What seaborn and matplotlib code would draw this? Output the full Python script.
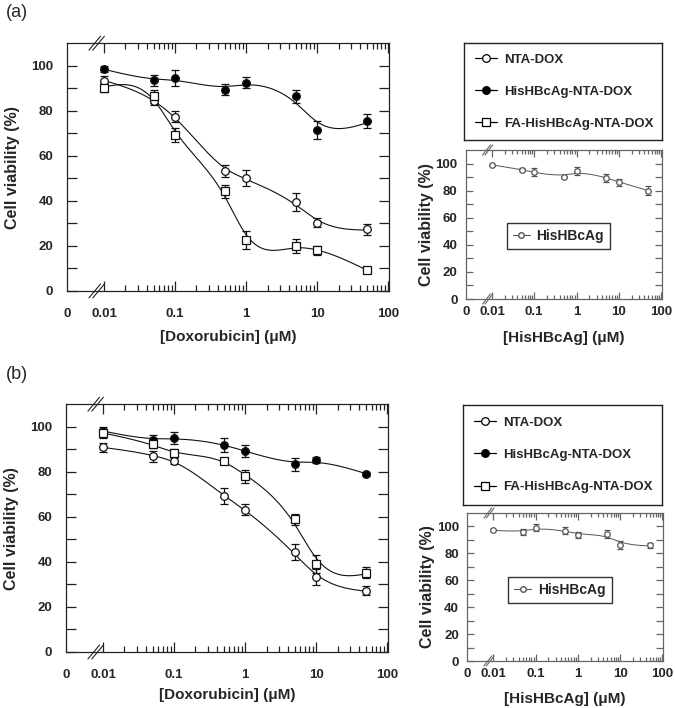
import numpy as np
import matplotlib
matplotlib.use("Agg")
import matplotlib.pyplot as plt
import seaborn as sns
from matplotlib.lines import Line2D

# concentraciones (uM)
conc = [0.01, 0.05, 0.1, 0.5, 1, 5, 10, 50]

# panel (a)
a_nta = [93.3, 84.5, 77.4, 53.3, 50.3, 39.3, 30.3, 27.3]
a_nta_err = [2, 2, 2.5, 2.5, 3.5, 4, 2, 2.5]
a_his = [98.5, 93.5, 94.4, 89.3, 92.4, 86.4, 71.5, 75.4]
a_his_err = [1.5, 2.5, 3.5, 2.5, 2.5, 3, 4, 3]
a_fa = [90.2, 86.4, 69.3, 44.2, 22.6, 19.9, 18.1, 9.2]
a_fa_err = [2, 3, 3, 3, 4, 3, 2, 1]
a_car = [99, 95.6, 93.6, 90.1, 94.3, 89.4, 86.2, 80]
a_car_err = [1, 1, 3, 1, 3, 3, 2.5, 3.5]

# panel (b)
b_nta = [90.8, 86.9, 84.9, 69.1, 63.1, 44.3, 33.2, 27.3]
b_nta_err = [2, 2.5, 1.5, 3.5, 2.5, 3.5, 3.5, 2]
b_his = [98.2, 94.2, 95.0, 92.0, 89.2, 83.3, 85.2, 79.0]
b_his_err = [1.5, 2, 2.5, 3, 2.5, 3, 1.5, 0.8]
b_fa = [97.2, 92.2, 88.2, 84.9, 78.0, 58.9, 39.1, 35.2]
b_fa_err = [2, 1.5, 2, 1, 3, 2.5, 4, 2.5]
b_car = [97.3, 95.8, 99, 96.8, 93.6, 94.3, 86.4, 85.9]
b_car_err = [0.5, 2, 2.5, 2.5, 2, 3, 3, 2]

series_names = ["NTA-DOX", "HisHBcAg-NTA-DOX", "FA-HisHBcAg-NTA-DOX"]
tick_labels = ["0", "0.01", "0.1", "1", "10", "100"]

sns.set_style("ticks")
plt.rcParams["font.family"] = ["Liberation Sans", "DejaVu Sans"]
plt.rcParams["font.weight"] = "bold"
plt.rcParams["axes.labelweight"] = "bold"

lx = np.log10(conc)
estilos = {
    "NTA-DOX": dict(marker="o", mfc="white"),
    "HisHBcAg-NTA-DOX": dict(marker="o", mfc="black"),
    "FA-HisHBcAg-NTA-DOX": dict(marker="s", mfc="white"),
}


def suavizar(x, y, lam, n=300):
    # spline de suavizado (penalizacion de segunda derivada) en escala log
    g = np.linspace(x.min(), x.max(), n)
    h = g[1] - g[0]
    B = np.zeros((len(x), n))
    for i, xi in enumerate(x):
        j = min(int((xi - g[0]) / h), n - 2)
        t = (xi - g[j]) / h
        B[i, j] = 1 - t
        B[i, j + 1] = t
    D = np.diff(np.eye(n), 2, axis=0)
    f = np.linalg.solve(B.T @ B + lam / h ** 3 * D.T @ D, B.T @ np.asarray(y, float))
    return g, f


def serie(ax, y, err, est, color, lam, lw=0.8, ms=5.5, cap=3):
    g, f = suavizar(lx, y, lam)
    sns.lineplot(x=g, y=f, ax=ax, color=color, lw=lw)
    ax.errorbar(lx, y, yerr=err, fmt="none", ecolor=color, elinewidth=0.9,
                capsize=cap, capthick=0.9, zorder=3)
    ax.plot(lx, y, ls="none", marker=est["marker"], mfc=est["mfc"], mec=color,
            ms=ms, mew=0.9, zorder=4)


def ejes(ax, xmin, color, label_x, label_y, xpad, ypad, labx_y, laby_x, bx, bdx, bdy):
    ax.set_xlim(xmin, 2.01)
    ax.set_ylim(0, 110)
    ax.set_xticks([xmin, -2, -1, 0, 1, 2])
    ax.set_xticklabels(tick_labels)
    ax.set_xticks([np.log10(k * 10.0 ** n) for n in range(-2, 2) for k in range(2, 10)], minor=True)
    ax.set_yticks([0, 20, 40, 60, 80, 100])
    ax.set_yticks([10, 30, 50, 70, 90], minor=True)
    ax.tick_params(axis="both", which="both", direction="in", top=True, right=True,
                   color=color, width=0.9, labelsize=9.5)
    ax.tick_params(axis="x", which="major", length=7, pad=xpad)
    ax.tick_params(axis="x", which="minor", length=4)
    ax.tick_params(axis="y", which="both", length=7, pad=ypad)
    t0 = ax.xaxis.get_major_ticks()[0]
    t0.tick1line.set_visible(False)
    t0.tick2line.set_visible(False)
    for lab in ax.get_xticklabels() + ax.get_yticklabels():
        lab.set_fontweight("bold")
    for s in ax.spines.values():
        s.set_color(color)
        s.set_linewidth(0.9)
        s.set_visible(True)
    ax.set_xlabel(label_x, fontsize=11)
    ax.set_ylabel(label_y, fontsize=11.5)
    ax.xaxis.set_label_coords(0.5, labx_y)
    ax.yaxis.set_label_coords(laby_x, 0.5)
    # marcas de corte del eje
    for yb in (0, 1):
        for off in (-0.006, 0.006):
            ax.plot([bx + off - bdx, bx + off + bdx], [yb - bdy, yb + bdy], color=color,
                    lw=0.8, transform=ax.transAxes, clip_on=False, zorder=6)


def leyenda_grande(fig, rect):
    lax = fig.add_axes(rect)
    lax.set_xticks([])
    lax.set_yticks([])
    for s in lax.spines.values():
        s.set_color("#222222")
        s.set_linewidth(1.0)
    handles = [Line2D([], [], color="black", lw=0.9, marker=estilos[n]["marker"],
                      mfc=estilos[n]["mfc"], mec="black", ms=5.5, mew=0.9) for n in series_names]
    lax.legend(handles, series_names, loc="center left", bbox_to_anchor=(0.055, 0.5),
               frameon=False, borderpad=0, borderaxespad=0, handlelength=1.7,
               handletextpad=0.5, labelspacing=1.5, prop=dict(size=9.5, weight="bold"))


fig = plt.figure(figsize=(6.75, 7.08), dpi=100)

paneles = [
    ("(a)", 1 - 4 / 708, [0.0993, 0.589, 0.477, 0.350], [0.690, 1 - 299 / 708, 0.290, 149 / 708],
     [464 / 675, 1 - 140 / 708, 198 / 675, 97 / 708],
     [(a_nta, a_nta_err, 0.004), (a_his, a_his_err, 0.006), (a_fa, a_fa_err, 0.002)],
     (a_car, a_car_err), -0.157, -0.215, 0.423),
    ("(b)", 1 - 366 / 708, [0.0978, 1 - 652 / 708, 0.477, 0.350], [0.692, 1 - 661 / 708, 0.290, 148 / 708],
     [463 / 675, 1 - 505 / 708, 199 / 675, 100 / 708],
     [(b_nta, b_nta_err, 0.004), (b_his, b_his_err, 0.006), (b_fa, b_fa_err, 0.003)],
     (b_car, b_car_err), -0.145, -0.21, 0.48),
]

for letra, ty, r_main, r_small, r_leg, datos, car, labx, labx2, legy in paneles:
    fig.text(0.008, ty, letra, fontsize=13, va="top", ha="left", fontweight="normal")

    ax = fig.add_axes(r_main)
    for (y, err, lam), n in zip(datos, series_names):
        serie(ax, y, err, estilos[n], "#111111", lam)
    ejes(ax, -2.52, "#222222", "[Doxorubicin] (\u03bcM)", "Cell viability (%)",
         xpad=12, ypad=10, labx_y=labx, laby_x=-0.146, bx=0.092, bdx=0.018, bdy=0.028)

    leyenda_grande(fig, r_leg)

    ax2 = fig.add_axes(r_small)
    serie(ax2, car[0], car[1], dict(marker="o", mfc="white"), "#555555", 0.01,
          lw=0.7, ms=4, cap=2.5)
    ejes(ax2, -2.62, "#666666", "[HisHBcAg] (\u03bcM)", "Cell viability (%)",
         xpad=5, ypad=6, labx_y=labx2, laby_x=-0.163, bx=0.112, bdx=0.02, bdy=0.034)
    ax2.tick_params(axis="x", which="major", length=5)
    ax2.tick_params(axis="x", which="minor", length=3)
    ax2.tick_params(axis="y", which="both", length=5)
    h = Line2D([], [], color="#555555", lw=0.8, marker="o", mfc="white", mec="#555555", ms=4)
    ax2.legend([h], ["HisHBcAg"], loc="center left", bbox_to_anchor=(0.209, legy),
               fancybox=False, edgecolor="#333333", framealpha=1, borderpad=0.45,
               borderaxespad=0, handlelength=1.2, handletextpad=0.5,
               prop=dict(size=10, weight="bold"))

fig.savefig("out.png", dpi=100)
